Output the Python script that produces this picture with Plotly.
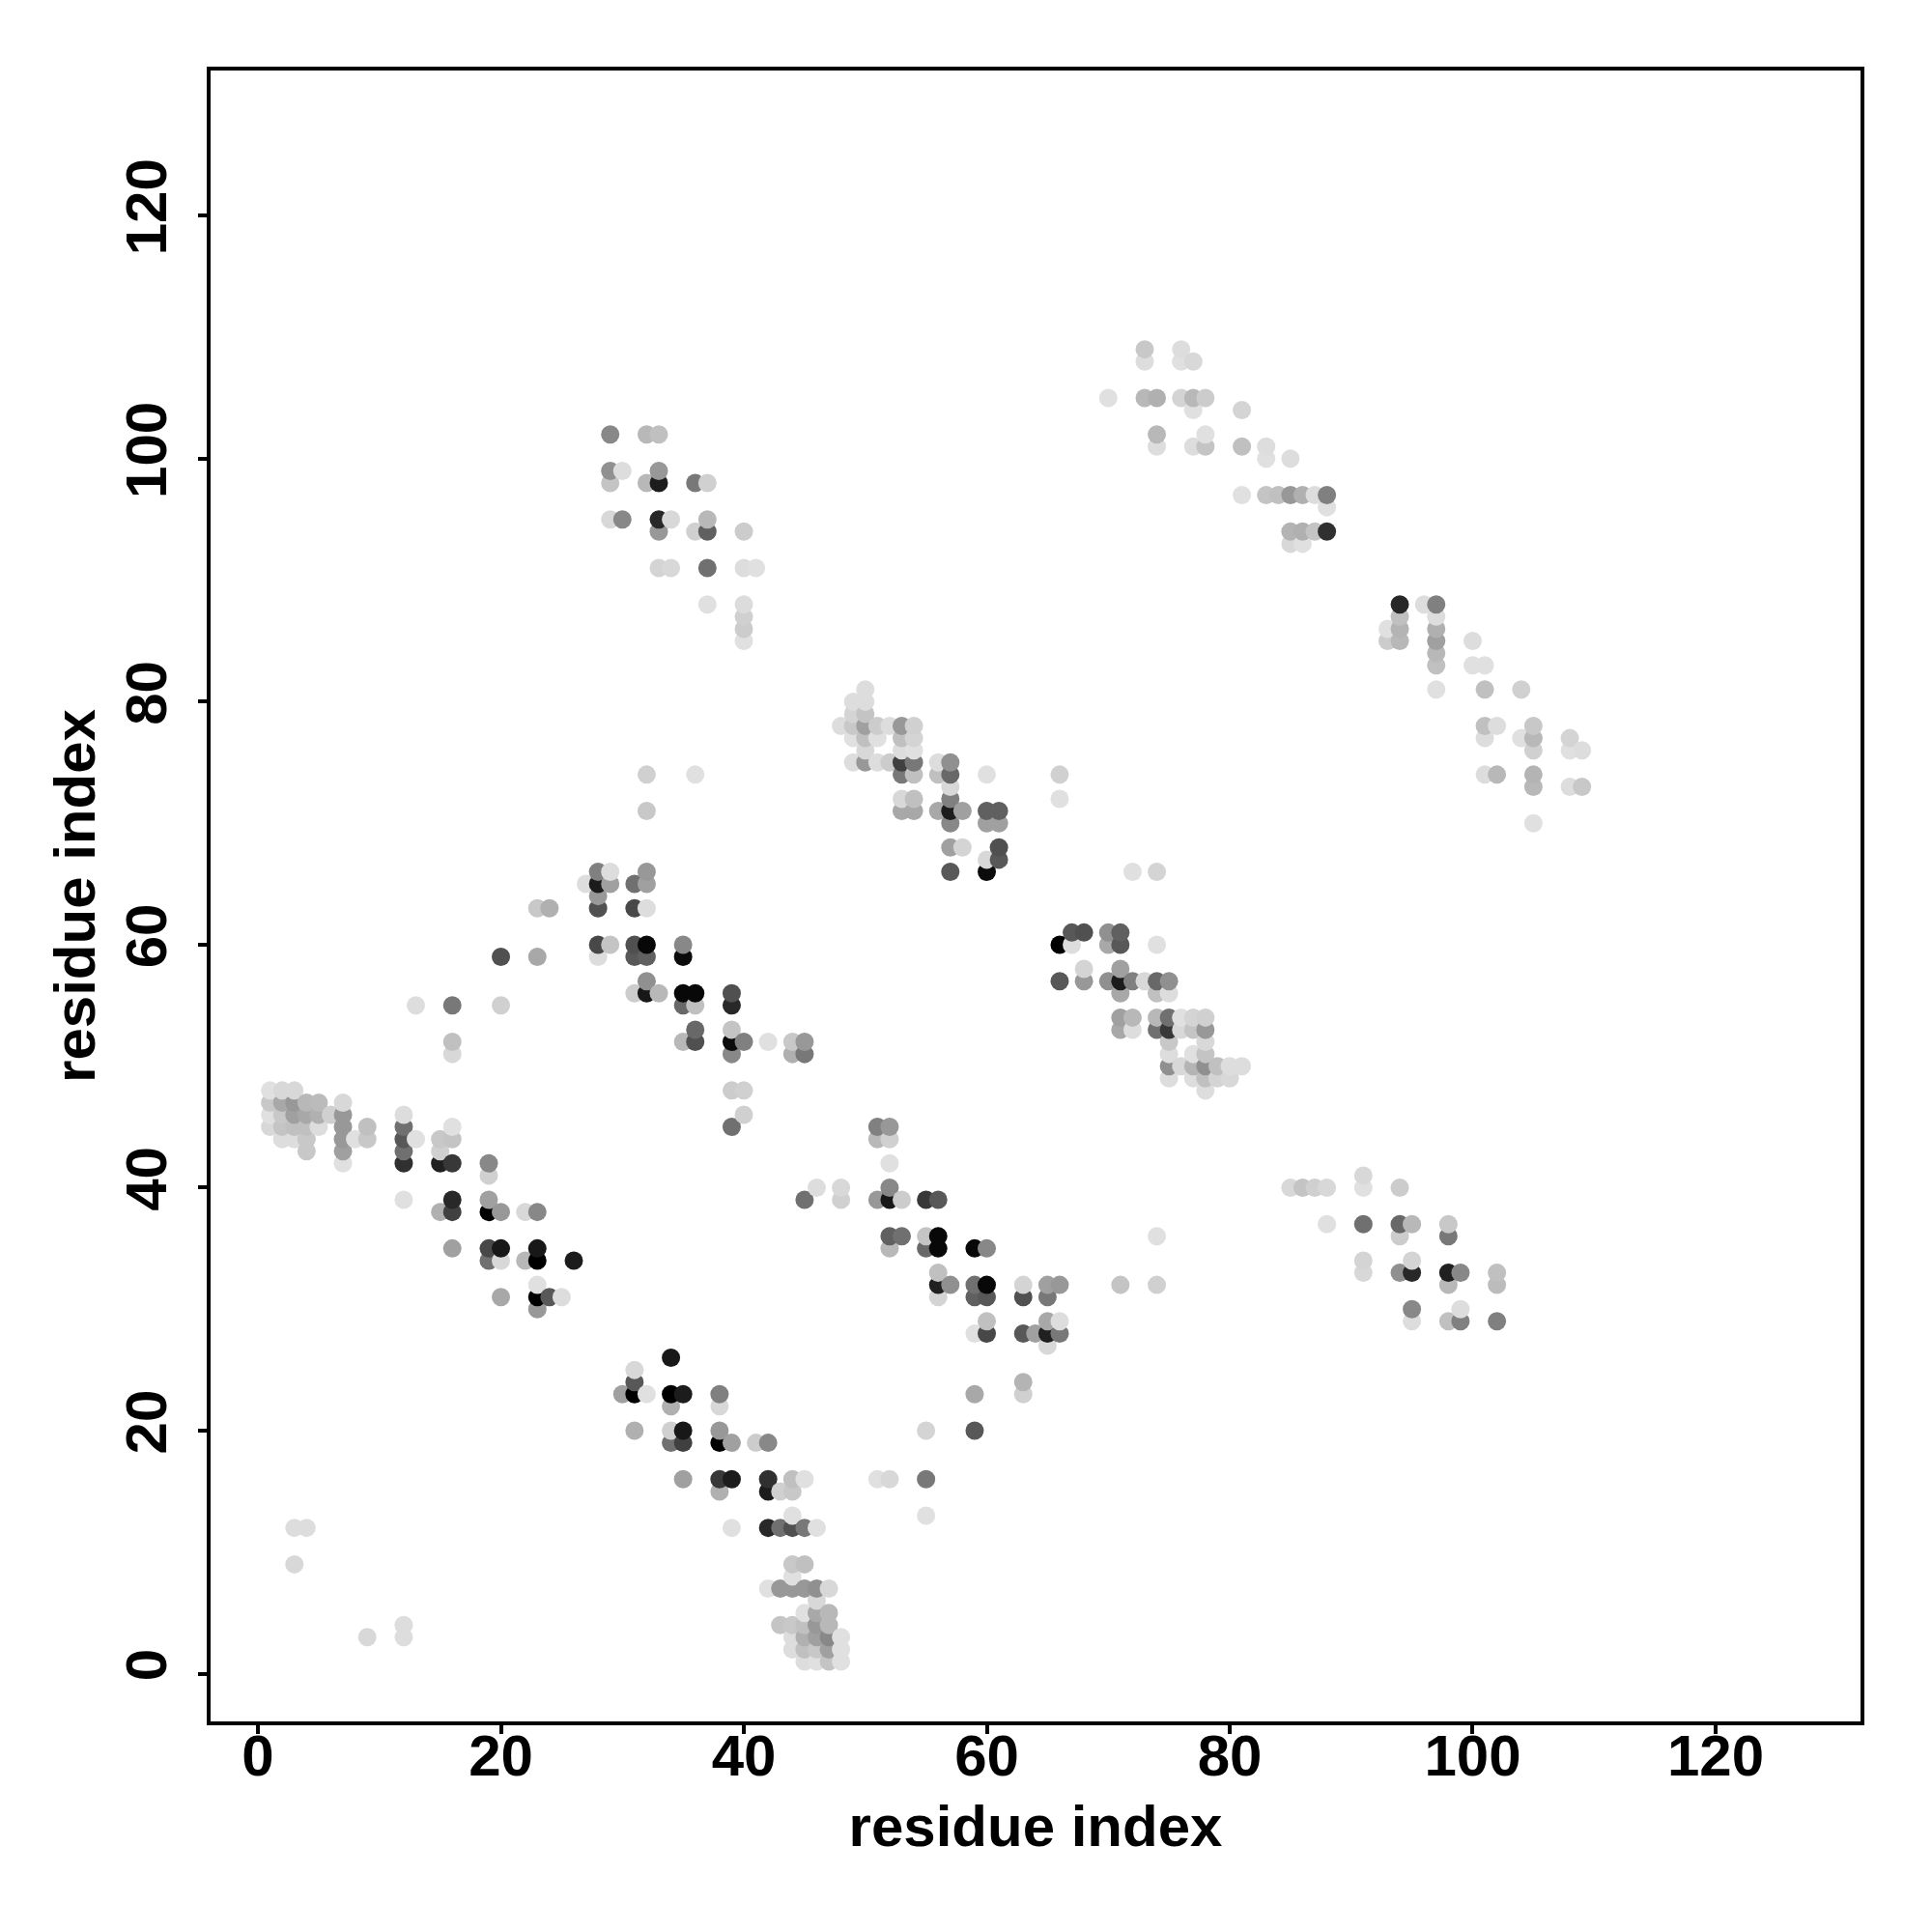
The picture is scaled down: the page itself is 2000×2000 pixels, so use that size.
import numpy as np
import plotly.graph_objects as go

# each row: residue index on y, the residues on x in contact with it, grey level of each dot
row_y = [
    109, 108, 105, 104, 102, 101, 100, 97, 96, 94, 93,
    102, 99, 98, 95, 94, 91, 88, 87, 86, 85,
    88, 87, 86, 85, 84, 83, 81, 78, 77, 76, 74, 73, 70,
    81, 80, 79, 78, 77, 76, 75, 74, 73, 72, 71, 70, 68, 67, 66,
    74, 71, 66, 65, 64, 63, 60, 59, 57, 56, 55, 53, 52, 51, 48, 46, 45,
    66, 61, 60, 58, 57, 56, 54, 53, 52, 51, 50, 49, 48,
    48, 47, 46, 45, 44, 43, 42, 41, 39, 38, 35, 34, 32, 31, 30,
    45, 44, 42, 40, 39, 36, 35, 33, 32, 31, 29, 28, 27, 24, 23, 20, 16, 13,
    41, 40, 37, 36, 34, 33, 32, 30, 29,
    26, 25, 24, 23, 22, 20, 19, 16, 15, 13, 12, 9, 8, 7, 6, 5, 4, 3, 2, 1,
    12, 9, 4, 3,
]
row_x = [
    [73, 76], [73, 76, 77], [70, 73, 74, 76, 77, 78], [77, 81], [74, 78], [74, 77, 78, 81, 83],
    [83, 85], [81, 83, 84, 85, 86, 87, 88], [88], [85, 86, 87, 88], [85, 86],
    [29, 32, 33], [29, 30, 33], [29, 32, 33, 36, 37], [29, 30, 33, 34, 37], [33, 36, 37, 40],
    [33, 34, 37, 40, 41], [37, 40], [40], [40], [40],
    [94, 96, 97], [94, 97], [93, 94, 97], [93, 94, 97, 100], [97], [97, 100, 101], [97, 101, 104],
    [101, 102, 105], [101, 104, 105, 108], [105, 108, 109], [101, 102, 105], [105, 108, 109], [105],
    [50], [49, 50], [49, 50], [48, 49, 50, 51, 52, 53, 54], [49, 50, 51, 53, 54], [50, 53, 54],
    [49, 50, 51, 52, 53, 54, 56, 57], [53, 54, 56, 57, 60, 66], [57], [53, 54, 57, 66],
    [53, 54, 56, 57, 58, 60, 61], [57, 60, 61], [57, 58, 61], [60, 61], [57, 60],
    [32, 36], [32], [28, 29, 32], [27, 28, 29, 31, 32], [28], [23, 24, 28, 31, 32],
    [28, 29, 31, 32, 35], [20, 23, 28, 31, 32, 35], [32], [31, 32, 33, 35, 36, 39],
    [13, 16, 20, 35, 36, 39], [36, 39], [16, 35, 36, 39, 40, 42, 44, 45], [16, 39, 44, 45],
    [39, 40], [40], [39],
    [72, 74], [67, 68, 70, 71], [66, 67, 70, 71, 74], [68, 71],
    [66, 68, 70, 71, 72, 73, 74, 75], [71, 74, 75], [71, 72, 74, 75, 76, 77, 78],
    [71, 72, 74, 75, 76, 77, 78], [75, 78], [75, 77, 78], [75, 76, 77, 78, 79, 80, 81],
    [75, 77, 78, 79, 80], [78],
    [1, 2, 3], [1, 2, 3, 4, 5, 7], [1, 2, 3, 4, 5, 6, 7, 12], [1, 2, 3, 4, 5, 7, 9, 12, 16],
    [2, 3, 4, 7, 8, 9, 12, 13, 15, 16], [4, 7, 12, 15], [7, 12, 15, 16, 19], [19], [12, 16, 19],
    [15, 16, 19, 20, 22, 23], [16, 19, 20, 23], [19, 20, 22, 23, 26], [23], [20, 23, 24, 25], [23],
    [51, 52], [51, 52], [52], [46, 48, 52], [45, 48, 51, 52, 53, 55, 56], [52, 53, 55, 56, 74],
    [52, 55, 56, 59, 60], [56], [56, 57, 59, 60, 63, 65, 66, 71, 74], [56, 59, 60, 63, 65],
    [60, 65, 66], [59, 60, 63, 64, 65, 66], [65], [63], [59, 63], [55, 59], [51, 52, 55], [55],
    [91], [85, 86, 87, 88, 91, 94], [88, 91, 94, 95, 98], [94, 98], [91, 95],
    [91, 94, 95, 98, 99, 102], [98, 102], [95, 99], [95, 98, 99, 102],
    [34], [31], [31], [30, 31, 32, 34, 35, 38], [34, 38], [31, 34, 35, 38],
    [34, 35, 38, 39, 41, 42], [35, 38, 39, 42, 44, 45], [38, 42, 43, 44], [44],
    [39, 42, 43, 44, 45, 46], [44, 45], [44], [42, 43, 44, 45, 46, 47], [46], [45, 46, 47],
    [43, 44, 45, 46, 47], [44, 45, 46, 47, 48], [44, 45, 46, 47, 48], [45, 46, 47, 48],
    [3, 4], [3], [12], [9, 12],
]
row_grey = [
    [0xc8, 0xdd], [0xdd, 0xe0, 0xd8], [0xe0, 0xb8, 0xb0, 0xd4, 0xb8, 0xcc], [0xe0, 0xd4], [0xb8, 0xe0],
    [0xdd, 0xdd, 0xc4, 0xc0, 0xdd],
    [0xe0, 0xdd], [0xe0, 0xc4, 0xc0, 0x98, 0xb0, 0xdd, 0x80], [0xe0], [0xb4, 0xb0, 0xc4, 0x30], [0xd8, 0xe0],
    [0x88, 0xb8, 0xc0], [0x90, 0xdd, 0x98], [0xc4, 0xb8, 0x1c, 0x78, 0xd0], [0xd8, 0x88, 0x28, 0xd8, 0xb8],
    [0x98, 0xd0, 0x60, 0xcc],
    [0xd4, 0xd8, 0x70, 0xdd, 0xe0], [0xe0, 0xdc], [0xd0], [0xcc], [0xe0],
    [0x28, 0xdd, 0x80], [0xc0, 0xdd], [0xe0, 0xb4, 0xb0], [0xcc, 0xb8, 0xa0, 0xdd], [0xb8], [0xc0, 0xe0, 0xe0],
    [0xe0, 0xc0, 0xd0],
    [0xc0, 0xdd, 0xc8], [0xdd, 0xe0, 0xb8, 0xd4], [0xd0, 0xe0, 0xdd], [0xdd, 0xb8, 0xb4], [0xb8, 0xdd, 0xc8], [0xe0],
    [0xdd], [0xdd, 0xdd], [0xd4, 0xc4], [0xdd, 0xc8, 0xa0, 0xcc, 0xdd, 0x98, 0xd0], [0xe0, 0xc0, 0xe0, 0xc0, 0xd4],
    [0xd8, 0xdd, 0xe0],
    [0xdd, 0x98, 0xdd, 0xcc, 0x40, 0x78, 0xdd, 0x90], [0x78, 0xc0, 0xc0, 0x68, 0xe0, 0xd0], [0xd8],
    [0xd8, 0xc0, 0x80, 0xe0],
    [0xa8, 0xa8, 0xa8, 0x1c, 0xa0, 0x60, 0x60], [0x88, 0xa0, 0xa0], [0xa0, 0xd4, 0x50], [0xd8, 0x58], [0x58, 0x0c],
    [0xd0, 0xe0], [0xc8], [0x80, 0xdd, 0x98], [0xdd, 0x1c, 0xa0, 0x70, 0xa0], [0x98], [0xc8, 0xb0, 0x50, 0x48, 0xdd],
    [0x48, 0xc4, 0x50, 0x08, 0x88], [0x50, 0xa8, 0xdd, 0x58, 0x60, 0x0c], [0x90], [0xcc, 0x18, 0xb8, 0x08, 0x08, 0x50],
    [0xdd, 0x78, 0xd0, 0x68, 0xc0, 0x28], [0x68, 0xc4], [0xc0, 0xb8, 0x50, 0x0c, 0x80, 0xe0, 0xc8, 0x98],
    [0xd8, 0x88, 0xb0, 0x78],
    [0xcc, 0xd0], [0xd0], [0x70],
    [0xe0, 0xd4], [0x58, 0x50, 0x90, 0x60], [0x00, 0xdd, 0xa8, 0x58, 0xe0], [0xd4, 0xa0],
    [0x58, 0x98, 0x90, 0x1c, 0x80, 0xd8, 0x68, 0x90], [0xa8, 0xc0, 0xdd], [0xa0, 0xb8, 0xb8, 0x70, 0xe0, 0xd4, 0xd0],
    [0xa8, 0xdd, 0x70, 0x38, 0xd8, 0xc4, 0x98], [0xc8, 0xd8], [0xdd, 0xe0, 0xc4],
    [0x90, 0xd8, 0xb4, 0x90, 0xc0, 0xdd, 0xdd],
    [0xdd, 0xdd, 0xc0, 0xd4, 0xd8], [0xdd],
    [0xe0, 0xd8, 0xd8], [0xc8, 0xa8, 0x98, 0xb8, 0xbb, 0xd8], [0xe0, 0xc8, 0xa0, 0xa8, 0xb0, 0xd0, 0x98, 0xdd],
    [0xd8, 0xc4, 0xc0, 0xc0, 0xdd, 0x98, 0xc0, 0x70, 0xe0],
    [0xdd, 0xdd, 0xc8, 0x98, 0xe0, 0xc8, 0x58, 0xe0, 0xc8, 0xc4], [0xc8, 0xa0, 0x70, 0xd0],
    [0xe0, 0x30, 0x20, 0x38, 0x88], [0xd0], [0xe0, 0x28, 0xa0],
    [0xb0, 0x40, 0x00, 0x98, 0xd8, 0x88], [0xa0, 0x48, 0x18, 0x18], [0x70, 0xd8, 0xb8, 0x00, 0x1c], [0xe0],
    [0xa8, 0x00, 0x58, 0xdd], [0x98],
    [0x80, 0x98], [0xb8, 0xd0], [0xe0], [0xdd, 0xd8, 0x88], [0x70, 0xd0, 0x98, 0x18, 0xcc, 0x38, 0x58],
    [0x60, 0x70, 0xc4, 0x08, 0xe0],
    [0xb8, 0x68, 0x08, 0x08, 0x88], [0xc0], [0x20, 0x90, 0x70, 0x08, 0xd4, 0xa0, 0x98, 0xc4, 0xd0],
    [0xd4, 0x60, 0x58, 0x50, 0x78],
    [0xc0, 0xa8, 0xdd], [0xe0, 0x48, 0x58, 0xa0, 0x20, 0x78], [0xd8], [0xb4], [0xa8, 0xd0], [0xd4, 0x58],
    [0xe0, 0xd8, 0x78], [0xe0],
    [0xd8], [0xd8, 0xc4, 0xd0, 0xd8, 0xe0, 0xcc], [0xe0, 0x70, 0x68, 0xb8, 0xc8], [0xcc, 0x78], [0xd4, 0xd4],
    [0xd8, 0x90, 0x28, 0x20, 0x88, 0xc0], [0xb8, 0xbc], [0x88, 0xdd], [0xdd, 0xc0, 0x80, 0x80],
    [0x18], [0xd8], [0x58], [0xa0, 0x00, 0xe0, 0x00, 0x1c, 0x80], [0xb0, 0xd8], [0xb0, 0xd0, 0x18, 0x98],
    [0x70, 0x40, 0x00, 0xa0, 0xcc, 0x88], [0xa0, 0x38, 0x1c, 0x30, 0xc0, 0xe0], [0xb0, 0x1c, 0xd0, 0xc8], [0xe0],
    [0xe0, 0x28, 0x70, 0x50, 0x78, 0xe0], [0xc8, 0xc0], [0xe0], [0xe0, 0x98, 0x98, 0x98, 0x90, 0xd8], [0xd8],
    [0xe0, 0xa8, 0xb8],
    [0xc4, 0xc8, 0xc0, 0x98, 0xb8], [0xdd, 0xb0, 0xa0, 0x88, 0xe0], [0xdd, 0xc0, 0xc8, 0xa0, 0xe0],
    [0xdd, 0xe0, 0xc4, 0xe0],
    [0xdd, 0xdd], [0xd8], [0xdd], [0xd8, 0xdd],
]
tick_values = [0, 20, 40, 60, 80, 100, 120]
axis_title = "residue index"

x, y, grey = [], [], []
for r, cols, shades in zip(row_y, row_x, row_grey):
    assert len(cols) == len(shades), (r, cols, shades)
    x += cols
    y += [r] * len(cols)
    grey += shades
order = np.lexsort((y, x))
x = np.array(x)[order]
y = np.array(y)[order]
grey = np.array(grey)[order]
colors = [f"rgb({g},{g},{g})" for g in grey]

FONT = "Liberation Sans"
fig = go.Figure(go.Scatter(
    x=x.tolist(), y=y.tolist(), mode="markers",
    marker=dict(size=19, color=colors, line=dict(width=0)),
    hoverinfo="skip",
))
axis = dict(
    tickmode="array", tickvals=tick_values, ticks="outside", ticklen=9, tickwidth=3.5,
    tickcolor="black", showgrid=False, zeroline=False, showline=True, linecolor="black",
    linewidth=3.5, mirror=True, tickfont=dict(family=FONT, size=60, color="black", weight="bold"),
    title=dict(text=axis_title, font=dict(family=FONT, size=60, color="black", weight="bold")),
)
fig.update_layout(
    width=2000, height=2000, autosize=False, showlegend=False,
    paper_bgcolor="white", plot_bgcolor="white",
    margin=dict(l=209.6, r=81.6, t=65.1, b=225.6, autoexpand=False),
    font=dict(family=FONT),
)
fig.update_xaxes(**axis, range=[-3.90, 131.93], ticklabelstandoff=-29)
fig.update_yaxes(**axis, range=[-3.93, 131.95], tickangle=-90, ticklabelstandoff=9)
fig.update_xaxes(title_standoff=20)
fig.update_yaxes(title_standoff=1)
fig.write_html("out.html")
